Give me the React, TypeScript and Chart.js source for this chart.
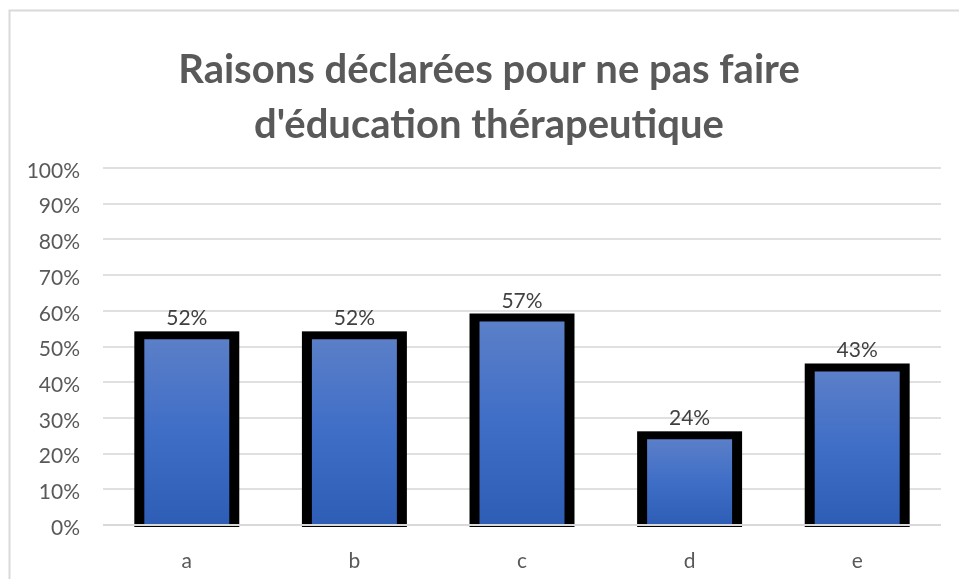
import React, { useEffect, useRef } from "react";
import { Chart, registerables } from "chart.js";

Chart.register(...registerables);

const categories = ["a", "b", "c", "d", "e"];
const values = [52, 52, 57, 24, 43];
const yTicks = [0, 10, 20, 30, 40, 50, 60, 70, 80, 90, 100];
const titleLines = ["Raisons déclarées pour ne pas faire", "d'éducation thérapeutique"];

const FONT = "Lato, 'Open Sans', sans-serif";

const framePlugin = {
  id: "frame",
  beforeDraw(chart: any) {
    const c = chart.ctx;
    c.save();
    c.fillStyle = "#ffffff";
    c.fillRect(0, 0, chart.width, chart.height);
    c.strokeStyle = "#d9d9d9";
    c.lineWidth = 2;
    c.beginPath();
    c.moveTo(9.5, chart.height);
    c.lineTo(9.5, 10.5);
    c.lineTo(chart.width, 10.5);
    c.stroke();
    c.restore();
  },
  afterDraw(chart: any) {
    const c = chart.ctx;
    c.save();
    c.fillStyle = "#595959";
    c.font = `bold 40px ${FONT}`;
    c.textAlign = "center";
    c.textBaseline = "middle";
    titleLines.forEach((line, i) => {
      c.fillText(line, 489, 70 + i * 55);
    });
    c.restore();
  },
};

const barFramePlugin = {
  id: "barFrame",
  beforeDatasetsDraw(chart: any) {
    const c = chart.ctx;
    const meta = chart.getDatasetMeta(0);
    c.save();
    c.fillStyle = "#000000";
    meta.data.forEach((el: any) => {
      const { x, y, base, width } = el.getProps(["x", "y", "base", "width"], true);
      const top = y - 8;
      c.fillRect(x - width / 2 - 10, top, width + 20, base + 3 - top);
    });
    c.restore();
  },
  afterDatasetsDraw(chart: any) {
    const c = chart.ctx;
    const meta = chart.getDatasetMeta(0);
    const area = chart.chartArea;
    const base = chart.scales.y.getPixelForValue(0);
    c.save();
    c.strokeStyle = "#d9d9d9";
    c.lineWidth = 2;
    c.beginPath();
    c.moveTo(area.left, base);
    c.lineTo(area.right, base);
    c.stroke();
    c.fillStyle = "#404040";
    c.font = `21px ${FONT}`;
    c.textAlign = "center";
    c.textBaseline = "alphabetic";
    meta.data.forEach((el: any, i: number) => {
      const { x, y } = el.getProps(["x", "y"], true);
      c.fillText(values[i] + "%", x, y - 8 - 6);
    });
    c.restore();
  },
};

export default function App() {
  const ref = useRef<HTMLCanvasElement>(null);
  useEffect(() => {
    document.body.style.margin = "0";
    const canvas = ref.current!;
    const chart = new Chart(canvas, {
      type: "bar",
      data: {
        labels: categories,
        datasets: [
          {
            data: values,
            borderWidth: 0,
            categoryPercentage: 1,
            barPercentage: 0.507,
            backgroundColor: (ctx: any) => {
              const ch = ctx.chart;
              if (!ch.chartArea || ctx.raw == null) return "#4472c4";
              const ys = ch.scales.y;
              const top = ys.getPixelForValue(ctx.raw);
              const base = ys.getPixelForValue(0);
              const g = ch.ctx.createLinearGradient(0, top, 0, base);
              g.addColorStop(0, "#5b7fc8");
              g.addColorStop(0.5, "#3f6ec7");
              g.addColorStop(1, "#2e5db6");
              return g;
            },
          },
        ],
      },
      options: {
        responsive: false,
        animation: false,
        devicePixelRatio: 1,
        layout: { padding: { left: 0, right: 18, top: 168, bottom: 0 } },
        plugins: {
          legend: { display: false },
          tooltip: { enabled: false },
          title: { display: false },
        },
        scales: {
          x: {
            grid: { display: false },
            border: { display: false },
            afterFit: (s: any) => {
              s.height = 54;
            },
            ticks: {
              color: "#595959",
              font: { family: FONT, size: 21 },
              padding: 16,
            },
          },
          y: {
            min: 0,
            max: 100,
            afterFit: (s: any) => {
              s.width = 103;
            },
            afterBuildTicks: (s: any) => {
              s.ticks = yTicks.map((v) => ({ value: v }));
            },
            grid: { color: "#e0e0e0", lineWidth: 2, drawTicks: false },
            border: { display: false },
            ticks: {
              color: "#595959",
              font: { family: FONT, size: 21 },
              padding: 23,
              labelOffset: 3,
              callback: (v: any) => v + "%",
            },
          },
        },
      },
      plugins: [framePlugin, barFramePlugin],
    });
    return () => chart.destroy();
  }, []);
  return (
    <div style={{ width: 959, height: 579 }}>
      <canvas ref={ref} width={959} height={579} />
    </div>
  );
}
